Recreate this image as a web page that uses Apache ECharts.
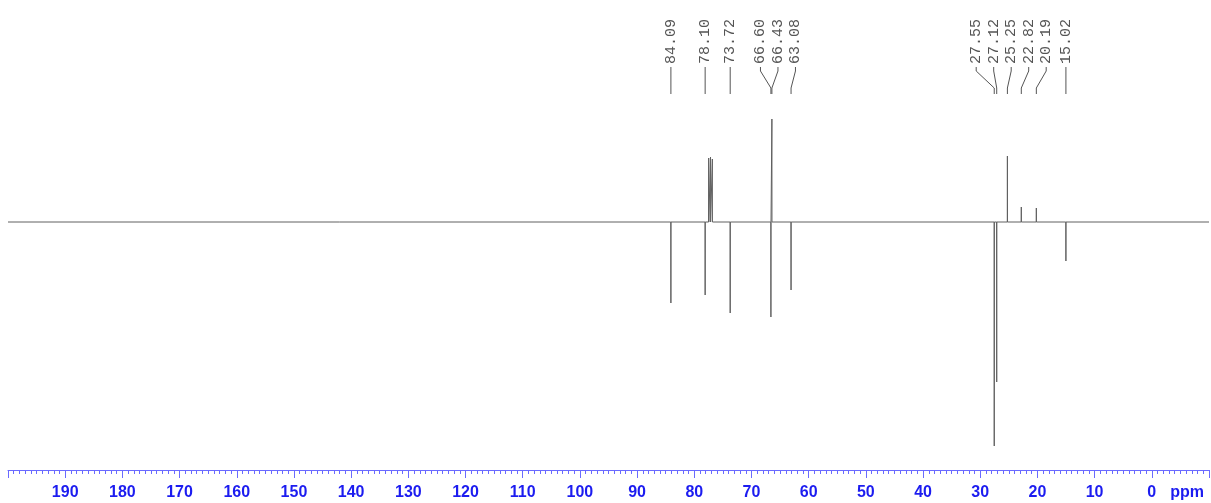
<!DOCTYPE html>
<html>
<head>
<meta charset="utf-8">
<script src="https://cdn.jsdelivr.net/npm/echarts@6/dist/echarts.min.js"></script>
<style>
html,body{margin:0;padding:0;background:#fff;}
#c{width:1211px;height:503px;}
</style>
</head>
<body>
<div id="c"></div>
<script>
// Peak positions (ppm) and intensities (arbitrary units, + up / - down)
var peakPpm =    [84.09, 78.10, 77.48, 77.16, 76.84, 73.72, 66.60, 66.43, 63.08, 27.55, 27.12, 25.25, 22.82, 20.19, 15.02];
var peakHeight = [-81,   -73,    64,    65,    63,   -91,   -95,   103,   -68,  -224,  -160,    66,    15,    14,   -39];
// Labelled peaks
var labelPpm = [84.09, 78.10, 73.72, 66.60, 66.43, 63.08, 27.55, 27.12, 25.25, 22.82, 20.19, 15.02];
var labelText = ['84.09','78.10','73.72','66.60','66.43','63.08','27.55','27.12','25.25','22.82','20.19','15.02'];
// Axis range and ticks
var ppmMax = 200, ppmMin = -10, tickStep = 10;

// Build spectrum trace: baseline with narrow spikes
var spectrum = [[ppmMax, 0]];
var order = peakPpm.map(function(p, i){ return i; }).sort(function(a, b){ return peakPpm[b] - peakPpm[a]; });
var hw = 0.015;
order.forEach(function(i){
  spectrum.push([peakPpm[i] + hw, 0]);
  spectrum.push([peakPpm[i], peakHeight[i]]);
  spectrum.push([peakPpm[i] - hw, 0]);
});
spectrum.push([ppmMin, 0]);

var chart = echarts.init(document.getElementById('c'), null, {renderer: 'canvas'});

var labelLayout = null;
function computeLayout(api) {
  var spacing = 17.5;
  var xs = labelPpm.map(function(p){ return api.coord([p, 0])[0]; });
  var idx = xs.map(function(x, i){ return i; }).sort(function(a, b){ return xs[a] - xs[b]; });
  var clusters = idx.map(function(i){ return {members: [i], pos: [xs[i]]}; });
  var merged = true;
  while (merged) {
    merged = false;
    for (var k = 0; k < clusters.length - 1; k++) {
      var a = clusters[k], b = clusters[k + 1];
      if (a.pos[a.pos.length - 1] + spacing > b.pos[0]) {
        var mem = a.members.concat(b.members);
        var mean = mem.reduce(function(s, i){ return s + xs[i]; }, 0) / mem.length;
        var pos = mem.map(function(i, j){ return mean + (j - (mem.length - 1) / 2) * spacing; });
        clusters.splice(k, 2, {members: mem, pos: pos});
        merged = true;
        break;
      }
    }
  }
  var out = [];
  clusters.forEach(function(c){ c.members.forEach(function(i, j){ out[i] = {lx: c.pos[j], px: xs[i]}; }); });
  return out;
}

var option = {
  backgroundColor: '#fff',
  animation: false,
  grid: {left: 8, right: 2, top: 0, bottom: 33, containLabel: false, outerBoundsMode: 'none'},
  xAxis: {
    type: 'value',
    inverse: true,
    min: ppmMin,
    max: ppmMax,
    interval: tickStep,
    name: 'ppm',
    nameLocation: 'start',
    nameGap: -5,
    nameTextStyle: {color: '#1c1cf0', fontSize: 16, fontWeight: 'bold', fontFamily: 'Liberation Sans, Arial', align: 'right', verticalAlign: 'top', padding: [15, 0, 0, 0]},
    axisLine: {show: true, onZero: false, lineStyle: {color: '#6a6aff', width: 1}},
    axisTick: {show: true, length: 8, lineStyle: {color: '#6a6aff', width: 1}},
    minorTick: {show: true, splitNumber: 10, length: 4, lineStyle: {color: '#6a6aff', width: 1}},
    splitLine: {show: false},
    axisLabel: {
      color: '#1c1cf0', fontSize: 16, fontWeight: 'bold', fontFamily: 'Liberation Sans, Arial', margin: 15,
      showMinLabel: false, showMaxLabel: false
    }
  },
  yAxis: {
    type: 'value', min: -248, max: 222, show: false, splitLine: {show: false}
  },
  series: [
    {
      type: 'line',
      data: spectrum,
      showSymbol: false,
      symbol: 'none',
      lineStyle: {color: '#606060', width: 1},
      clip: false,
      z: 2
    },
    {
      type: 'custom',
      coordinateSystem: 'cartesian2d',
      clip: false,
      data: labelPpm.map(function(p, i){ return [p, 0, i]; }),
      renderItem: function(params, api) {
        if (params.dataIndex === 0 || !labelLayout) labelLayout = computeLayout(api);
        var i = params.dataIndex;
        var L = labelLayout[i];
        var yTextBottom = 64, y0 = 67, y1 = 71, y2 = 88, y3 = 94;
        var ls = {stroke: '#555', lineWidth: 1, fill: null};
        return {
          type: 'group',
          children: [
            {type: 'polyline', shape: {points: [[L.lx, y0], [L.lx, y1], [L.px, y2], [L.px, y3]]}, style: ls},
            {type: 'text', x: L.lx, y: yTextBottom, rotation: Math.PI / 2,
              style: {text: labelText[i], x: 0, y: 0, align: 'left', verticalAlign: 'middle',
                fill: '#555', font: '15px "Liberation Mono", "DejaVu Sans Mono", monospace'}}
          ]
        };
      },
      z: 3
    }
  ]
};
chart.setOption(option);
</script>
</body>
</html>
